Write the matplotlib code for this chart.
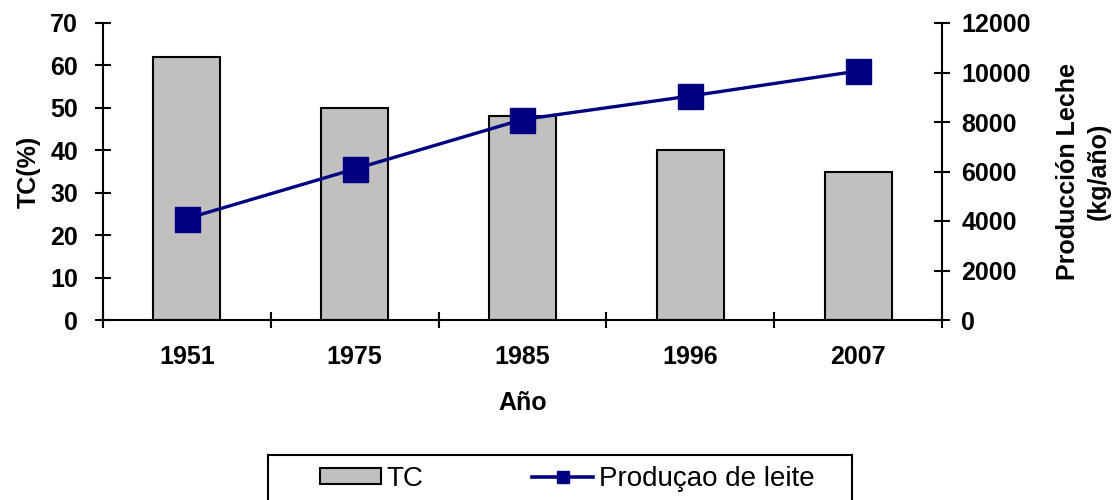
import matplotlib
matplotlib.use("Agg")
import matplotlib.pyplot as plt
from matplotlib.lines import Line2D
from matplotlib.patches import Rectangle
import numpy as np

years = ["1951", "1975", "1985", "1996", "2007"]
tc_pct = [62, 50, 48, 40, 35]
milk_prod = [4100, 6100, 8100, 9050, 10060]

plt.rcParams['font.family'] = ['Liberation Sans', 'DejaVu Sans']
FS = 18

fig = plt.figure(figsize=(11.18, 5), dpi=100)
ax = fig.add_axes([0.0921, 0.36, 0.7505, 0.594])
x = np.arange(len(years))

bars = ax.bar(x, tc_pct, width=0.4, color='#C0C0C0', edgecolor='black',
              linewidth=1.5, label='TC', zorder=2)
ax.set_xlim(-0.5, len(years) - 0.5)
ax.set_ylim(0, 70)
ax.set_yticks(range(0, 71, 10))
ax.set_xticks(x)
ax.set_xticklabels(years, fontsize=FS, fontweight='bold')
ax.tick_params(axis='x', length=0, pad=18)
ax.set_xticks(np.arange(len(years) + 1) - 0.5, minor=True)
ax.tick_params(axis='x', which='minor', direction='inout', length=12, width=1.5)
ax.tick_params(axis='y', direction='inout', length=12, width=1.5, labelsize=FS, pad=12)
for lbl in ax.get_yticklabels():
    lbl.set_fontweight('bold')
ax.set_xlabel('Año', fontsize=FS, fontweight='bold')
ax.xaxis.label.set_va('center')
ax.xaxis.set_label_coords(0.5, -0.279)
ax.set_ylabel('TC(%)', fontsize=FS, fontweight='bold')
ax.yaxis.label.set_va('center')
ax.yaxis.set_label_coords(-0.088, 0.5)

ax2 = ax.twinx()
line, = ax2.plot(x, milk_prod, color='#000080', linewidth=2.4, marker='s',
                 markersize=18, zorder=3)
ax2.set_ylim(0, 12000)
ax2.set_yticks(range(0, 12001, 2000))
ax2.tick_params(axis='y', direction='inout', length=12, width=1.5, labelsize=FS, pad=8)
for lbl in ax2.get_yticklabels():
    lbl.set_fontweight('bold')
ax2.set_ylabel('Producción Leche\n(kg/año)', fontsize=FS, fontweight='bold',
               linespacing=1.35)
ax2.yaxis.label.set_va('center')
ax2.yaxis.set_label_coords(1.168, 0.5)

for a in (ax, ax2):
    a.spines['top'].set_visible(False)
    for s in ('left', 'right', 'bottom'):
        a.spines[s].set_linewidth(1.5)
ax.spines['right'].set_visible(False)
ax2.spines['left'].set_visible(False)
ax2.spines['bottom'].set_visible(False)

# legend box, cut off by the bottom edge as in the original
fig.patches.append(Rectangle((268 / 1118, -0.05), 584 / 1118, 0.05 + 45 / 500,
                             transform=fig.transFigure, fill=False,
                             edgecolor='black', linewidth=1.5))
line_proxy = Line2D([], [], color='#000080', linewidth=2.6, marker='s',
                    markersize=9)
fig.legend(handles=[bars, line_proxy], labels=['TC', 'Produçao de leite'],
           loc='center left', ncol=2, bbox_to_anchor=(320 / 1118, 21 / 500),
           fontsize=20, frameon=False, handlelength=2.2, handleheight=0.5,
           handletextpad=0.2, columnspacing=3.9, borderpad=0,
           borderaxespad=0)

fig.savefig('out.png', dpi=100)
